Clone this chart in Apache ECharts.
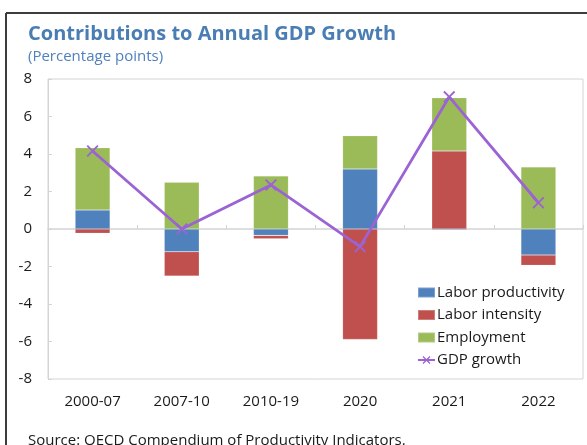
<!DOCTYPE html>
<html>
<head>
<meta charset="utf-8">
<script src="https://cdn.jsdelivr.net/npm/echarts@6/dist/echarts.min.js"></script>
<style>
  html, body { margin: 0; padding: 0; background: #fff; }
  #chart { width: 587px; height: 445px; }
</style>
</head>
<body>
<div id="chart"></div>
<script>
// Contributions to annual GDP growth, percentage points
const categories = ['2000-07', '2007-10', '2010-19', '2020', '2021', '2022'];
const laborProductivity = [1.01, -1.21, -0.34, 3.20, -0.05, -1.39];
const laborIntensity = [-0.23, -1.30, -0.18, -5.89, 4.16, -0.55];
const employment = [3.33, 2.49, 2.83, 1.78, 2.84, 3.31];
const gdpGrowth = [4.16, 0.00, 2.35, -0.94, 7.05, 1.40];
const yTicks = [-8, -6, -4, -2, 0, 2, 4, 6, 8];

const FONT = '"Open Sans", "Noto Sans", sans-serif';
const AXIS_GREY = '#d4d4d4';
const TEXT = '#1a1a1a';

const chart = echarts.init(document.getElementById('chart'), null, { renderer: 'canvas' });

// filled "x" marker
const crossSymbol = 'path://M0,1.1L1.1,0L5,3.9L8.9,0L10,1.1L6.1,5L10,8.9L8.9,10L5,6.1L1.1,10L0,8.9L3.9,5Z';

const barBase = {
  type: 'bar',
  stack: 'contrib',
  barWidth: 35,
  xAxisIndex: 0,
  itemStyle: { borderColor: 'rgba(255,255,255,0.25)', borderWidth: 0.6 }
};

chart.setOption({
  animation: false,
  backgroundColor: '#fff',
  textStyle: { fontFamily: FONT },
  title: [
    {
      text: 'Contributions to Annual GDP Growth',
      subtext: '(Percentage points)',
      left: 23,
      top: 19,
      itemGap: 5,
      textStyle: { fontFamily: FONT, fontSize: 20, fontWeight: 'bold', color: '#4a7db3' },
      subtextStyle: { fontFamily: FONT, fontSize: 15, color: '#4f81bd' }
    },
    {
      text: 'Source: OECD Compendium of Productivity Indicators.',
      left: 23,
      top: 428,
      textStyle: { fontFamily: FONT, fontSize: 15, fontWeight: 'normal', color: TEXT }
    }
  ],
  graphic: [
    { type: 'line', shape: { x1: 6, y1: 13, x2: 587, y2: 13 }, style: { stroke: '#3c3c3c', lineWidth: 2 } },
    { type: 'line', shape: { x1: 6, y1: 13, x2: 6, y2: 445 }, style: { stroke: '#3c3c3c', lineWidth: 2 } }
  ],
  legend: {
    orient: 'vertical',
    left: 412,
    top: 280,
    itemWidth: 17,
    itemHeight: 10,
    itemGap: 7.5,
    textStyle: { fontFamily: FONT, fontSize: 15, color: TEXT, lineHeight: 15, padding: [0, 0, 0, -3] },
    data: [
      { name: 'Labor productivity', icon: 'rect' },
      { name: 'Labor intensity', icon: 'rect' },
      { name: 'Employment', icon: 'rect' },
      { name: 'GDP growth' }
    ]
  },
  grid: {
    left: 48, top: 79, right: 4, bottom: 66,
    show: true, borderColor: AXIS_GREY, borderWidth: 1, containLabel: false
  },
  xAxis: [
    {
      type: 'category',
      data: categories,
      position: 'bottom',
      axisLine: { show: false, onZero: false },
      axisTick: { show: false },
      axisLabel: { margin: 15, fontSize: 15, color: TEXT, fontFamily: FONT }
    },
    {
      type: 'category',
      data: categories,
      position: 'bottom',
      axisLine: { show: true, onZero: true, lineStyle: { color: AXIS_GREY, width: 1.5 } },
      axisTick: { show: true, inside: true, length: 4, lineStyle: { color: AXIS_GREY } },
      axisLabel: { show: false }
    }
  ],
  yAxis: {
    type: 'value',
    min: yTicks[0],
    max: yTicks[yTicks.length - 1],
    interval: 2,
    axisLine: { show: true, lineStyle: { color: AXIS_GREY } },
    axisTick: { show: true, inside: true, length: 4, lineStyle: { color: AXIS_GREY } },
    splitLine: { show: false },
    axisLabel: { margin: 16, fontSize: 15, color: TEXT, fontFamily: FONT }
  },
  series: [
    Object.assign({}, barBase, { name: 'Labor productivity', data: laborProductivity, color: '#4f81bd' }),
    Object.assign({}, barBase, { name: 'Labor intensity', data: laborIntensity, color: '#c0504d' }),
    Object.assign({}, barBase, { name: 'Employment', data: employment, color: '#9bbb59' }),
    {
      name: 'GDP growth',
      type: 'line',
      xAxisIndex: 0,
      data: gdpGrowth,
      color: '#9b63d3',
      symbol: crossSymbol,
      symbolSize: 12,
      lineStyle: { width: 2.8, color: '#9b63d3' },
      itemStyle: { color: '#9b63d3' },
      z: 5
    }
  ]
});
</script>
</body>
</html>
